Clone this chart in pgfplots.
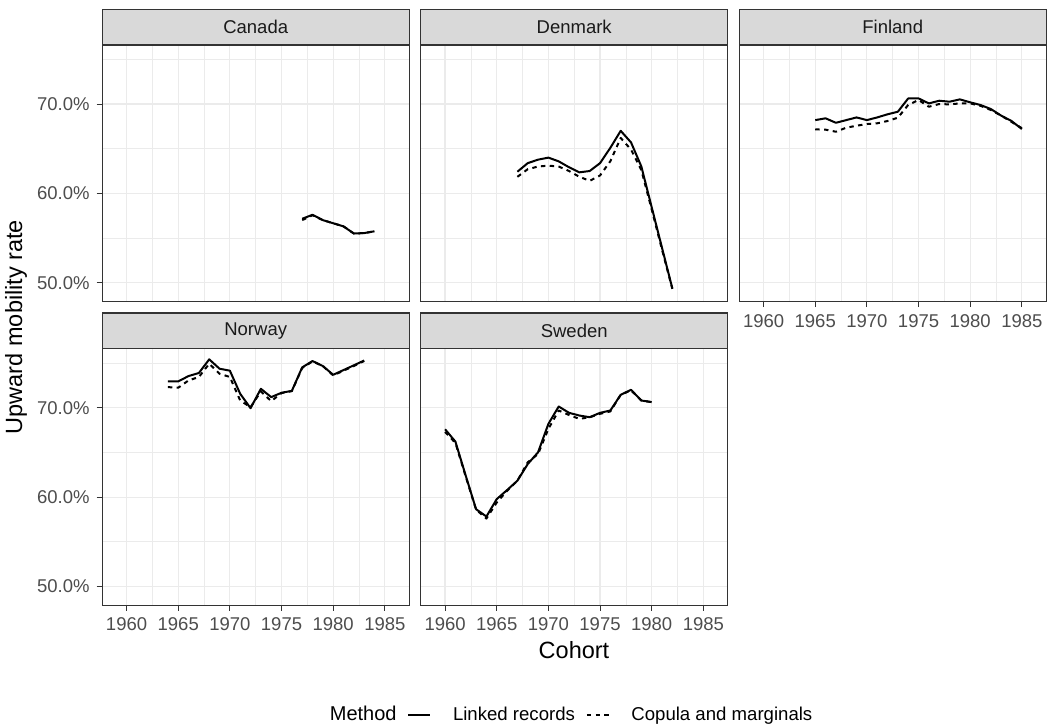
\documentclass[border=0pt]{standalone}
\usepackage{fontspec}
\setmainfont{Liberation Sans}
\usepackage{pgfplots}
\pgfplotsset{compat=1.18}
\usepackage{pgfplotstable}
\definecolor{grey10}{HTML}{1A1A1A}
\definecolor{grey20}{HTML}{333333}
\definecolor{grey30}{HTML}{4D4D4D}
\definecolor{grey85}{HTML}{D9D9D9}
\definecolor{grey92}{HTML}{EBEBEB}

\pgfplotstableread{
year linked copula
1977 57.15 57.00
1978 57.60 57.55
1979 57.00 57.00
1980 56.65 56.65
1981 56.30 56.30
1982 55.50 55.50
1983 55.55 55.55
1984 55.75 55.75
}\canada

\pgfplotstableread{
year linked copula
1967 62.42 61.85
1968 63.38 62.70
1969 63.77 63.00
1970 64.00 63.10
1971 63.58 63.00
1972 62.92 62.50
1973 62.35 61.85
1974 62.50 61.40
1975 63.38 62.00
1976 65.10 63.60
1977 67.00 66.20
1978 65.70 64.90
1979 63.00 62.60
1980 58.45 58.20
1981 53.90 53.70
1982 49.35 49.30
}\denmark

\pgfplotstableread{
year linked copula
1965 68.20 67.16
1966 68.40 67.13
1967 67.90 66.90
1968 68.20 67.35
1969 68.50 67.57
1970 68.20 67.76
1971 68.50 67.84
1972 68.85 68.10
1973 69.14 68.47
1974 70.63 69.90
1975 70.63 70.45
1976 70.07 69.70
1977 70.37 70.00
1978 70.26 69.96
1979 70.52 70.07
1980 70.19 70.07
1981 69.89 69.80
1982 69.44 69.33
1983 68.70 68.70
1984 68.10 68.00
1985 67.20 67.30
}\finland

\pgfplotstableread{
year linked copula
1964 72.96 72.32
1965 72.96 72.25
1966 73.56 73.07
1967 73.90 73.45
1968 75.43 74.94
1969 74.38 73.82
1970 74.16 73.45
1971 71.57 70.82
1972 69.96 70.07
1973 72.13 71.83
1974 71.20 70.75
1975 71.69 71.65
1976 71.90 71.87
1977 74.53 74.46
1978 75.24 75.20
1979 74.68 74.68
1980 73.70 73.63
1981 74.23 74.16
1982 74.76 74.68
1983 75.30 75.24
}\norway

\pgfplotstableread{
year linked copula
1960 67.60 67.30
1961 66.22 66.07
1962 62.40 62.30
1963 58.65 58.60
1964 57.83 57.60
1965 59.78 59.40
1966 60.79 60.70
1967 61.84 61.84
1968 63.70 63.90
1969 65.02 64.83
1970 68.20 67.64
1971 70.15 69.70
1972 69.44 69.20
1973 69.14 68.76
1974 68.95 68.95
1975 69.44 69.33
1976 69.70 69.60
1977 71.46 71.46
1978 72.02 71.95
1979 70.82 70.82
1980 70.64 70.64
}\sweden

\pgfplotsset{
  panel/.style={
    scale only axis, width=153.4pt, height=128.15pt,
    anchor=north west,
    xmin=1957.65, xmax=1987.35, ymin=47.9, ymax=76.6,
    xtick={1960,1965,1970,1975,1980,1985},
    minor xtick={1962.5,1967.5,1972.5,1977.5,1982.5},
    ytick={50,60,70}, minor ytick={55,65,75},
    xticklabels={1960,1965,1970,1975,1980,1985},
    yticklabels={50.0\%,60.0\%,70.0\%},
    xmajorgrids=true, ymajorgrids=true, xminorgrids=true, yminorgrids=true,
    major grid style={draw=grey92, line width=0.6pt},
    minor grid style={draw=grey92, line width=0.3pt},
    axis line style={draw=grey20, line width=0.6pt},
    tick align=outside, xtick pos=left, ytick pos=left,
    major tick length=2.85pt, minor tick length=0pt,
    tick style={draw=grey20, line width=0.5pt},
    ticklabel style={font=\fontsize{9.25}{11}\selectfont, text=grey30},
  },
  nox/.style={xticklabels={}, xmajorticks=false},
  noy/.style={yticklabels={}, ymajorticks=false},
  linked/.style={black, line width=1pt, line join=round},
  copula/.style={black, line width=1pt, line join=round, dash pattern=on 2.2pt off 2.2pt},
}

\begin{document}
\begin{tikzpicture}
\path[use as bounding box] (0,0) rectangle (523.5pt,363pt);

\begin{axis}[panel, nox, name=canada, at={(51.15pt,340.45pt)}]
\addplot[copula] table[x=year, y=copula] {\canada};
\addplot[linked] table[x=year, y=linked] {\canada};
\end{axis}

\begin{axis}[panel, nox, noy, name=denmark, at={(210.4pt,340.45pt)}]
\addplot[copula] table[x=year, y=copula] {\denmark};
\addplot[linked] table[x=year, y=linked] {\denmark};
\end{axis}

\begin{axis}[panel, noy, name=finland, at={(369.65pt,340.45pt)}]
\addplot[copula] table[x=year, y=copula] {\finland};
\addplot[linked] table[x=year, y=linked] {\finland};
\end{axis}

\begin{axis}[panel, name=norway, at={(51.15pt,188.55pt)}]
\addplot[copula] table[x=year, y=copula] {\norway};
\addplot[linked] table[x=year, y=linked] {\norway};
\end{axis}

\begin{axis}[panel, noy, name=sweden, at={(210.4pt,188.55pt)},
  legend columns=-1,
  legend image code/.code={\draw[#1] (0pt,0pt) -- (11pt,0pt);},
  legend style={draw=none, fill=none, inner sep=0pt, outer sep=0pt,
    at={(-0.3667,-0.4284)}, anchor=west,
    font=\fontsize{9.3}{11}\selectfont, text=black,
    nodes={inner sep=0pt},
    /tikz/every odd column/.append style={column sep=10.8pt},
    /tikz/every even column/.append style={column sep=5.4pt}},
  ]
\addlegendimage{empty legend}
\addlegendentry{\fontsize{10}{12}\selectfont Method}
\addlegendimage{linked}
\addlegendentry{Linked records}
\addlegendimage{copula}
\addlegendentry{Copula and marginals}
\addplot[copula, forget plot] table[x=year, y=copula] {\sweden};
\addplot[linked, forget plot] table[x=year, y=linked] {\sweden};
\end{axis}

% facet strips
\foreach \n/\t in {canada/Canada, denmark/Denmark, finland/Finland, norway/Norway, sweden/Sweden}{
  \draw[fill=grey85, draw=grey20, line width=0.6pt] (\n.north west) rectangle ([yshift=17.9pt]\n.north east);
  \node[font=\fontsize{9.25}{11}\selectfont, text=grey10] at ([yshift=8.95pt]\n.north) {\t};
}

\node[rotate=90, font=\fontsize{11.75}{14}\selectfont, text=black] at (8pt,199.5pt) {Upward mobility rate};
\node[font=\fontsize{11.75}{14}\selectfont, text=black] at (287pt,38pt) {Cohort};
\end{tikzpicture}
\end{document}
